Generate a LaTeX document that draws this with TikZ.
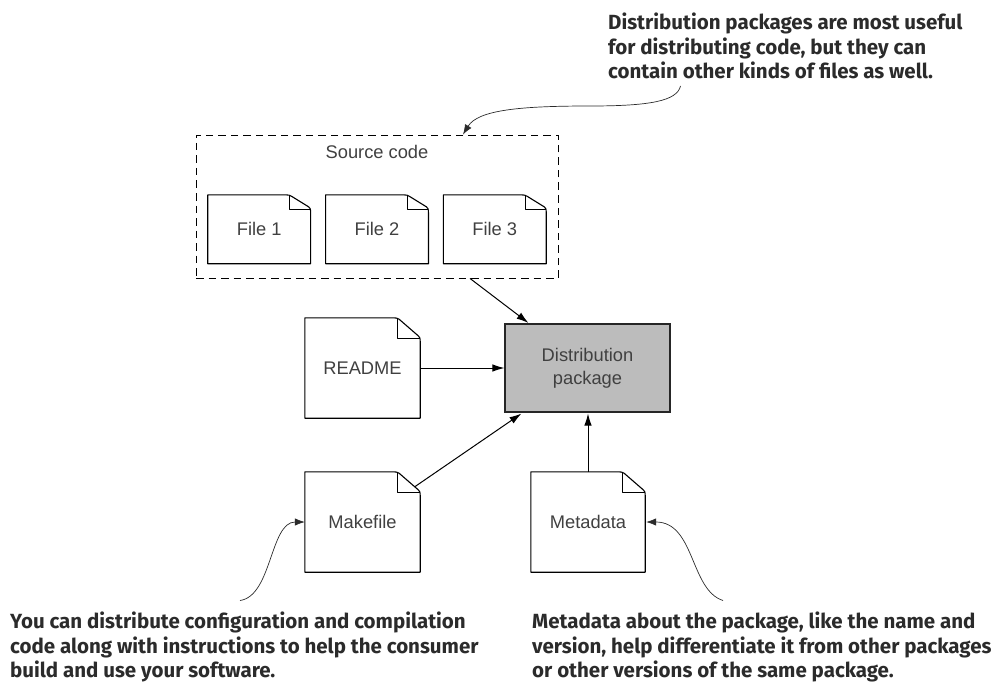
\documentclass[tikz,border=0pt]{standalone}
\usepackage{fontspec}
\setmainfont{Liberation Sans}
\newfontfamily\notefont{Fira Sans}[BoldFont={Fira Sans Bold}]
\usetikzlibrary{arrows.meta,calc}
\definecolor{ink}{HTML}{2B2B2B}
\definecolor{boxgray}{HTML}{BCBCBC}
\tikzset{
  labeltext/.style={font=\fontsize{18.3}{23}\selectfont, text=ink!90, align=center, inner sep=0pt},
  docbox/.style={labeltext, draw=none},
  dirline/.style={line width=1.0pt, black, -{Latex[length=12pt,width=7.5pt]}},
  noteline/.style={line width=0.7pt, ink, -{Latex[length=10pt,width=7.5pt]}},
  notetext/.style={font=\notefont\bfseries\fontsize{20.5}{24.4}\selectfont, text=ink, align=left, inner sep=0pt, anchor=north west},
  docline/.style={line width=1.1pt, black, line join=round},
  foldline/.style={line width=0.9pt, black, line join=round},
}
% name, centre x, centre y, width, height, fold x, fold y, text
\newcommand{\docfile}[8]{%
  \node[docbox, minimum width=#4pt, minimum height=#5pt] (#1) at (#2,#3) {#8};
  \draw[docline] (#1.north west) -- ($(#1.north east)+(-#6-4,0)$)
     .. controls ($(#1.north east)+(-#6-1,0)$) and ($(#1.north east)+(-#6,0.3)$) .. ($(#1.north east)+(-#6+2,1.5)$)
     -- ($(#1.north east)+(-2,#7-3)$)
     .. controls ($(#1.north east)+(-0.7,#7-2)$) and ($(#1.north east)+(0,#7-1)$) .. ($(#1.north east)+(0,#7+2.5)$)
     -- (#1.south east) -- (#1.south west) -- cycle;
  \draw[foldline] ($(#1.north east)+(-#6,0.5)$) -- ($(#1.north east)+(-#6,#7)$) -- ($(#1.north east)+(-0.5,#7)$);
}
\begin{document}
\begin{tikzpicture}[x=1pt,y=-1pt]
\useasboundingbox (0,0) rectangle (999,682);

% source code group
\node[draw=black, line width=0.9pt, dash pattern=on 7.5pt off 5pt, minimum width=362pt, minimum height=143pt, inner sep=0pt] (src) at (377,206.5) {};
\node[labeltext] (srclabel) at (377,152) {Source code};
\docfile{f1}{259.2}{229.3}{102.5}{68.5}{21}{15}{File 1}
\docfile{f2}{377}{229.3}{102.5}{68.5}{21}{15}{File 2}
\docfile{f3}{494.8}{229.3}{102.5}{68.5}{21}{15}{File 3}

% main documents
\docfile{readme}{362.5}{368}{115}{100}{23}{21}{README}
\docfile{make}{362.5}{522}{115}{100}{23}{21}{Makefile}
\docfile{meta}{588}{522}{114}{100}{23}{21}{Metadata}

\node[draw=black!85, line width=1.1pt, fill=boxgray, minimum width=165pt, minimum height=88pt, inner sep=0pt, labeltext] (dist) at (587.5,368) {Distribution\\package};

% connectors
\draw[dirline] ($(src.south)+(93,0)$) -- ($(dist.north west)+(24,-0.5)$);
\draw[dirline] (readme.east) -- (dist.west);
\draw[dirline] ($(make.north east)+(-5.5,15)$) -- ($(dist.south west)+(17,1)$);
\draw[dirline] (meta.north) -- ($(dist.south)+(0.5,1)$);

% notes
\node[notetext] (n1) at (608,13) {Distribution packages are most useful\\for distributing code, but they can\\contain other kinds of files as well.};
\node[notetext] (n2) at (10,612) {You can distribute configuration and compilation\\code along with instructions to help the consumer\\build and use your software.};
\node[notetext] (n3) at (532,612) {Metadata about the package, like the name and\\version, help differentiate it from other packages\\or other versions of the same package.};

\coordinate (c1) at (680.5,86);
\coordinate (c2) at (240,600.5);
\coordinate (c3) at (723,600.5);
\draw[noteline] (c1) .. controls (677,101) and (650,106) .. (590,106) .. controls (520,106) and (478,110) .. ($(src.north)+(86,0)$);
\draw[noteline] (c2) .. controls (272,596) and (270,522) .. (make.west);
\draw[noteline] (c3) .. controls (690,590) and (695,522) .. ($(meta.east)+(1,0)$);
\end{tikzpicture}
\end{document}
